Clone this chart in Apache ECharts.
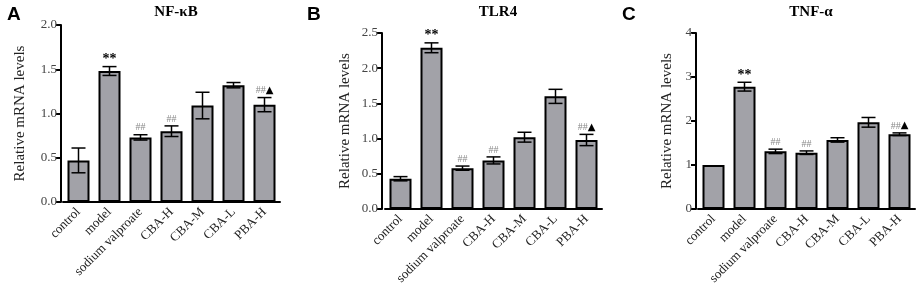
<!DOCTYPE html>
<html>
<head>
<meta charset="utf-8">
<script src="https://cdn.jsdelivr.net/npm/echarts@6/dist/echarts.min.js"></script>
<style>
  html, body { margin: 0; padding: 0; background: #fff; }
  #chart { width: 920px; height: 288px; }
</style>
</head>
<body>
<div id="chart"></div>
<script>
var categories = ['control', 'model', 'sodium valproate', 'CBA-H', 'CBA-M', 'CBA-L', 'PBA-H'];
// mean and error (SD)
var nfkbMean = [0.47, 1.48, 0.73, 0.80, 1.09, 1.32, 1.10];
var nfkbErr  = [0.14, 0.05, 0.03, 0.06, 0.15, 0.03, 0.08];
var tlr4Mean = [0.43, 2.29, 0.58, 0.69, 1.02, 1.60, 0.98];
var tlr4Err  = [0.03, 0.07, 0.03, 0.05, 0.07, 0.10, 0.08];
var tnfMean  = [1.00, 2.78, 1.31, 1.28, 1.57, 1.97, 1.70];
var tnfErr   = [0.00, 0.10, 0.05, 0.04, 0.05, 0.11, 0.03];
// significance marks above each bar
var starMarks = ['', '**', '', '', '', '', ''];
var hashMarks = ['', '', '##', '##', '', '', '##'];
var triMarks  = ['', '', '', '', '', '', '▲'];

var panels = [
  { letter: 'A', title: 'NF-κB', mean: nfkbMean, err: nfkbErr, max: 2.0, step: 0.5, dec: 1,
    grid: { left: 63, top: 25, width: 217, height: 177 }, yOffset: 2, nameGap: 33, titleX: 171, letterX: 2 },
  { letter: 'B', title: 'TLR4', mean: tlr4Mean, err: tlr4Err, max: 2.5, step: 0.5, dec: 1,
    grid: { left: 385, top: 33, width: 217, height: 176 }, yOffset: 3, nameGap: 29, titleX: 493, letterX: 302 },
  { letter: 'C', title: 'TNF-α', mean: tnfMean, err: tnfErr, max: 4, step: 1, dec: 0,
    grid: { left: 698, top: 33, width: 217, height: 176 }, yOffset: 2, nameGap: 21, titleX: 806, letterX: 617 }
];

var serif = '"Liberation Serif", "Times New Roman", serif';
var titles = [], grids = [], xAxes = [], yAxes = [], series = [];

panels.forEach(function (p, i) {
  titles.push({
    text: p.letter, left: p.letterX, top: 0,
    textStyle: { fontFamily: '"Liberation Sans", Arial, sans-serif', fontSize: 19, fontWeight: 'bold', color: '#000' }
  });
  titles.push({
    text: p.title, left: p.titleX, top: 0, textAlign: 'center',
    textStyle: { fontFamily: serif, fontSize: 15, fontWeight: 'bold', color: '#000' }
  });
  grids.push(p.grid);
  xAxes.push({
    gridIndex: i, type: 'category', data: categories,
    axisLine: { lineStyle: { color: '#000', width: 2 } },
    axisTick: { alignWithLabel: true, length: 5, lineStyle: { color: '#000', width: 2 } },
    axisLabel: { rotate: 45, interval: 0, fontFamily: serif, fontSize: 13, color: '#222', margin: 8 }
  });
  yAxes.push({
    gridIndex: i, type: 'value', min: 0, max: p.max, interval: p.step, offset: p.yOffset,
    name: 'Relative mRNA levels', nameLocation: 'middle', nameGap: p.nameGap,
    nameTextStyle: { fontFamily: serif, fontSize: 15, color: '#222' },
    axisLine: { show: true, lineStyle: { color: '#000', width: 2 } },
    axisTick: { show: true, length: 5, lineStyle: { color: '#000', width: 2 } },
    axisLabel: { fontFamily: serif, fontSize: 13, color: '#444', margin: 4,
      formatter: function (v) { return v.toFixed(p.dec); } },
    splitLine: { show: false }
  });
  series.push({
    type: 'bar', xAxisIndex: i, yAxisIndex: i, data: p.mean, barWidth: 22,
    itemStyle: { color: '#a2a2a8', borderColor: '#000', borderWidth: 2 },
    animation: false
  });
  var errData = p.mean.map(function (m, k) { return [k, m, m + p.err[k], m - p.err[k], k]; });
  series.push({
    type: 'custom', xAxisIndex: i, yAxisIndex: i, data: errData, z: 5, animation: false,
    renderItem: function (params, api) {
      var k = api.value(4);
      var top = api.coord([api.value(0), api.value(2)]);
      var bot = api.coord([api.value(0), api.value(3)]);
      var cx = top[0], w = 7;
      var children = [];
      var ls = { stroke: '#000', lineWidth: 1.5 };
      if (p.err[k] > 0) {
        children.push({ type: 'line', shape: { x1: cx, y1: top[1], x2: cx, y2: bot[1] }, style: ls });
        children.push({ type: 'line', shape: { x1: cx - w, y1: top[1], x2: cx + w, y2: top[1] }, style: ls });
        children.push({ type: 'line', shape: { x1: cx - w, y1: bot[1], x2: cx + w, y2: bot[1] }, style: ls });
      }
      var txt = '';
      if (starMarks[k]) txt += '{s|' + starMarks[k] + '}';
      if (hashMarks[k]) txt += '{h|' + hashMarks[k] + '}';
      if (triMarks[k]) txt += '{t|' + triMarks[k] + '}';
      if (txt) {
        children.push({
          type: 'text', x: cx, y: top[1] - 1,
          style: {
            text: txt, align: 'center', verticalAlign: 'bottom',
            rich: {
              s: { fontFamily: serif, fontSize: 14, fontWeight: 'bold', fill: '#000', lineHeight: 12 },
              h: { fontFamily: serif, fontSize: 10, fill: '#888', lineHeight: 12 },
              t: { fontFamily: '"DejaVu Sans", sans-serif', fontSize: 10, fill: '#000', lineHeight: 12 }
            }
          }
        });
      }
      return { type: 'group', children: children };
    }
  });
});

var chart = echarts.init(document.getElementById('chart'), null, { renderer: 'canvas' });
chart.setOption({
  backgroundColor: '#fff',
  animation: false,
  title: titles,
  grid: grids,
  xAxis: xAxes,
  yAxis: yAxes,
  series: series
});
window.addEventListener('resize', chart.resize);
</script>
</body>
</html>
